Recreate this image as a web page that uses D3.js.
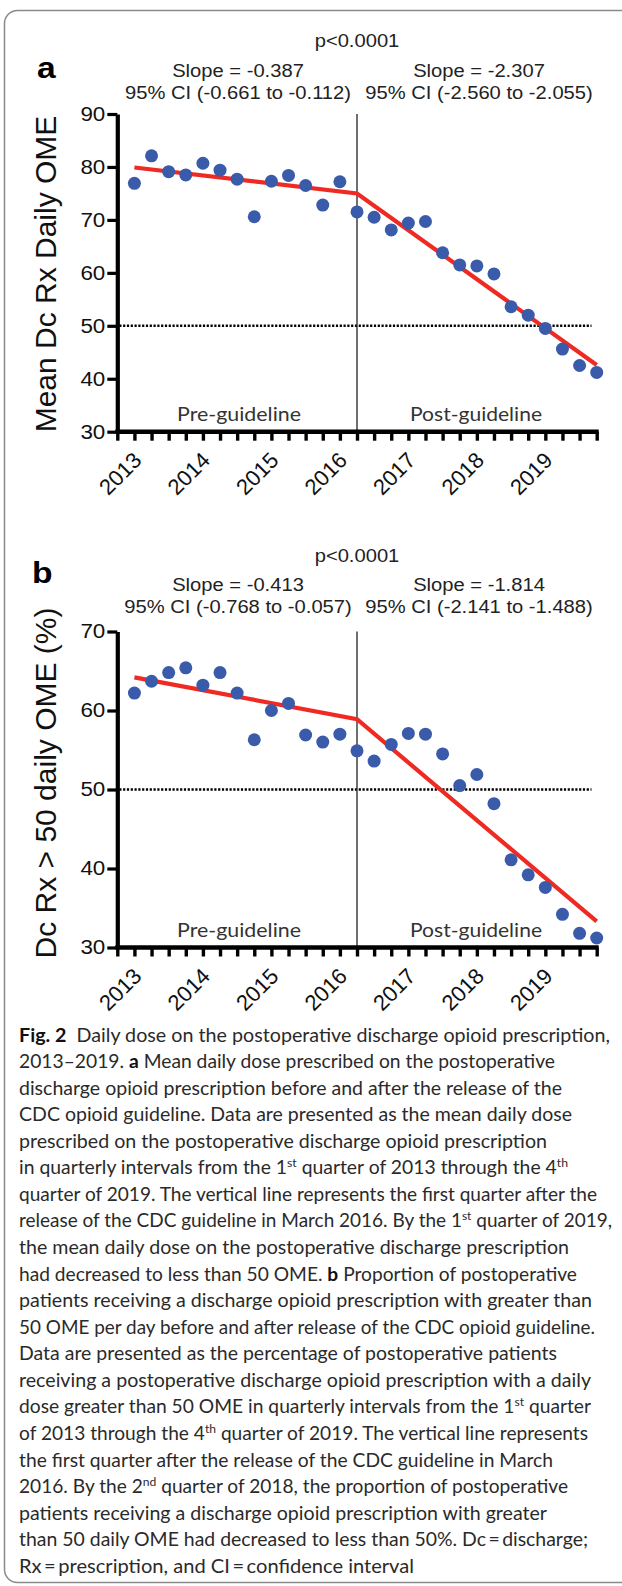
<!DOCTYPE html>
<html><head><meta charset="utf-8">
<script src="https://cdn.jsdelivr.net/npm/d3@7"></script>
<style>body{margin:0;background:#fff}svg{display:block}</style>
</head><body>
<svg id="c" width="622" height="1586"></svg>
<script>
// ---------- data ----------
const quarters = ["2013Q1","2013Q2","2013Q3","2013Q4","2014Q1","2014Q2","2014Q3","2014Q4",
  "2015Q1","2015Q2","2015Q3","2015Q4","2016Q1","2016Q2","2016Q3","2016Q4",
  "2017Q1","2017Q2","2017Q3","2017Q4","2018Q1","2018Q2","2018Q3","2018Q4",
  "2019Q1","2019Q2","2019Q3","2019Q4"];
const years = ["2013","2014","2015","2016","2017","2018","2019"];
const meanDailyOME = [76.9,82.1,79.1,78.5,80.7,79.4,77.7,70.6,77.3,78.4,76.5,72.8,77.2,71.5,
  70.5,68.1,69.4,69.7,63.8,61.5,61.3,59.8,53.6,52.0,49.5,45.6,42.5,41.2];
const pctOver50 = [62.2,63.7,64.8,65.4,63.2,64.8,62.2,56.3,60.0,60.9,56.9,56.0,57.0,54.9,
  53.6,55.7,57.1,57.0,54.5,50.5,51.9,48.2,41.1,39.2,37.6,34.2,31.8,31.2];
const fitQuarters = ["2013Q1","2016Q2","2019Q4"];
const fitA = [79.9,75.0,42.6];
const fitB = [64.2,58.9,33.3];
const guidelineQuarter = "2016Q2";
const ticksA = [30,40,50,60,70,80,90];
const ticksB = [30,40,50,60,70];
const threshold = 50;

// ---------- drawing ----------
const svg = d3.select("#c");
svg.append("rect").attr("width",622).attr("height",1586).attr("fill","#fff");
svg.append("rect").attr("x",4.5).attr("y",10.5).attr("width",660).attr("height",1572)
  .attr("rx",13).attr("fill","none").attr("stroke","#8a8a8a").attr("stroke-width",1.5);

const ARIAL = "'Liberation Sans', Arial, Helvetica, sans-serif";
const HUMAN = "Lato, 'Open Sans', sans-serif";
const BLUE = "#3a5ba9", RED = "#ee2a22";

const x = d3.scaleLinear().domain([-1, quarters.length-1]).range([117.3, 596.7]);
const qx = q => x(quarters.indexOf(q));

function panel(cfg){
  const g = svg.append("g");
  const y = d3.scaleLinear().domain([30, cfg.max]).range([cfg.bottom, cfg.top]);

  // header
  g.append("text").attr("class","st").attr("x",qx(guidelineQuarter)).attr("y",cfg.pY)
    .attr("text-anchor","middle").attr("font-family",ARIAL).attr("font-size",18).attr("fill","#222").text("p<0.0001");
  g.append("text").attr("class","st").attr("x",cfg.letterX).attr("y",cfg.letterY)
    .attr("font-family",ARIAL).attr("font-weight","bold").attr("font-size",30).attr("fill","#000").text(cfg.letter);
  cfg.stats.forEach((s,i)=>{
    const cx = i===0 ? 238 : 479;
    g.append("text").attr("class","st").attr("x",cx).attr("y",cfg.sY).attr("text-anchor","middle")
      .attr("font-family",ARIAL).attr("font-size",18).attr("fill","#222").text(s[0]);
    g.append("text").attr("class","st").attr("x",cx).attr("y",cfg.sY+22).attr("text-anchor","middle")
      .attr("font-family",ARIAL).attr("font-size",18).attr("fill","#222").text(s[1]);
  });

  // threshold dotted line
  g.append("line").attr("x1",x(-1)+2).attr("x2",591.5).attr("y1",y(threshold)).attr("y2",y(threshold))
    .attr("stroke","#000").attr("stroke-width",2.6).attr("stroke-dasharray","2.2,1.6");
  // vertical guideline line
  g.append("line").attr("x1",qx(guidelineQuarter)).attr("x2",qx(guidelineQuarter))
    .attr("y1",cfg.top).attr("y2",cfg.bottom).attr("stroke","#333").attr("stroke-width",1.4);

  // axes
  const ya = g.append("g").attr("transform",`translate(${x(-1)},0)`)
    .call(d3.axisLeft(y).tickValues(cfg.ticks).tickSize(10).tickSizeOuter(0).tickPadding(2));
  ya.select(".domain").attr("stroke","#000").attr("stroke-width",4.2);
  ya.selectAll(".tick line").attr("stroke","#000").attr("stroke-width",3.2);
  ya.selectAll(".tick text").attr("class","st").attr("font-family",ARIAL).attr("font-size",20).attr("fill","#111");

  const xa = g.append("g").attr("transform",`translate(0,${cfg.bottom})`)
    .call(d3.axisBottom(x).tickValues(d3.range(-1, quarters.length)).tickSize(9).tickSizeOuter(0).tickFormat(""));
  xa.select(".domain").attr("stroke","#000").attr("stroke-width",4.5).attr("d",`M${x(-1)-2},0H${x(quarters.length-1)+2}`);
  xa.selectAll(".tick line").attr("stroke","#000").attr("stroke-width",3.4);

  years.forEach((yr,k)=>{
    const px = x(k*4+0.5), py = cfg.bottom+30;
    g.append("text").attr("transform",`translate(${px},${py}) rotate(-45)`).attr("text-anchor","end")
      .attr("font-family",ARIAL).attr("font-size",22).attr("fill","#111").text(yr);
  });

  // y title
  g.append("text").attr("transform",`translate(56,${cfg.titleY}) rotate(-90)`).attr("text-anchor","middle")
    .attr("font-family",ARIAL).attr("font-size",30).attr("fill","#111").text(cfg.title);

  // period labels
  g.append("text").attr("x",239).attr("y",cfg.bottom-11).attr("text-anchor","middle")
    .attr("font-family",HUMAN).attr("font-size",20).attr("fill","#333")
    .attr("textLength",124).attr("lengthAdjust","spacingAndGlyphs").text("Pre-guideline");
  g.append("text").attr("x",476).attr("y",cfg.bottom-11).attr("text-anchor","middle")
    .attr("font-family",HUMAN).attr("font-size",20).attr("fill","#333")
    .attr("textLength",132).attr("lengthAdjust","spacingAndGlyphs").text("Post-guideline");

  // fitted line
  const line = d3.line().x(d=>qx(d[0])).y(d=>y(d[1]));
  g.append("path").datum(fitQuarters.map((q,i)=>[q,cfg.fit[i]])).attr("d",line)
    .attr("fill","none").attr("stroke",RED).attr("stroke-width",4.2).attr("stroke-linejoin","miter");

  // points
  g.selectAll("circle.pt").data(cfg.values).join("circle").attr("class","pt")
    .attr("cx",(d,i)=>qx(quarters[i])).attr("cy",d=>y(d)).attr("r",6.5).attr("fill",BLUE);
}

panel({top:114, bottom:431.7, max:90, ticks:ticksA, values:meanDailyOME, fit:fitA,
  letter:"a", letterX:37, letterY:78, pY:47, sY:77, titleY:274,
  title:"Mean Dc Rx Daily OME",
  stats:[["Slope = -0.387","95% CI (-0.661 to -0.112)"],["Slope = -2.307","95% CI (-2.560 to -2.055)"]]});

panel({top:631.5, bottom:947.5, max:70, ticks:ticksB, values:pctOver50, fit:fitB,
  letter:"b", letterX:32, letterY:583, pY:562, sY:591, titleY:783,
  title:"Dc Rx > 50 daily OME (%)",
  stats:[["Slope = -0.413","95% CI (-0.768 to -0.057)"],["Slope = -1.814","95% CI (-2.141 to -1.488)"]]});

// horizontal stretch of Arial texts (the figure is slightly wider than tall)
svg.selectAll(".st").each(function(){
  const w = this.getComputedTextLength();
  d3.select(this).attr("textLength", w*1.12).attr("lengthAdjust","spacingAndGlyphs");
});

// ---------- caption ----------
const captionLines = [
  [["Fig. 2","b"],["  Daily dose on the postoperative discharge opioid prescription,"]],
  [["2013–2019. "],["a","b"],[" Mean daily dose prescribed on the postoperative"]],
  [["discharge opioid prescription before and after the release of the"]],
  [["CDC opioid guideline. Data are presented as the mean daily dose"]],
  [["prescribed on the postoperative discharge opioid prescription"]],
  [["in quarterly intervals from the 1"],["st","s"],[" quarter of 2013 through the 4"],["th","s"]],
  [["quarter of 2019. The vertical line represents the first quarter after the"]],
  [["release of the CDC guideline in March 2016. By the 1"],["st","s"],[" quarter of 2019,"]],
  [["the mean daily dose on the postoperative discharge prescription"]],
  [["had decreased to less than 50 OME. "],["b","b"],[" Proportion of postoperative"]],
  [["patients receiving a discharge opioid prescription with greater than"]],
  [["50 OME per day before and after release of the CDC opioid guideline."]],
  [["Data are presented as the percentage of postoperative patients"]],
  [["receiving a postoperative discharge opioid prescription with a daily"]],
  [["dose greater than 50 OME in quarterly intervals from the 1"],["st","s"],[" quarter"]],
  [["of 2013 through the 4"],["th","s"],[" quarter of 2019. The vertical line represents"]],
  [["the first quarter after the release of the CDC guideline in March"]],
  [["2016. By the 2"],["nd","s"],[" quarter of 2018, the proportion of postoperative"]],
  [["patients receiving a discharge opioid prescription with greater"]],
  [["than 50 daily OME had decreased to less than 50%. Dc\u2009=\u2009discharge;"]],
  [["Rx\u2009=\u2009prescription, and CI\u2009=\u2009confidence interval"]]
];
const captionWidths = [591,536,543,553,528,549,578,593,550,558,573,576,538,572,572,569,534,549,528,569,395];

const cap = svg.append("g");
captionLines.forEach((segs,i)=>{
  const t = cap.append("text").attr("x",19).attr("y",1041.5 + i*26.57)
    .attr("font-family",HUMAN).attr("font-size",19).attr("fill","#2a2a2a")
    .attr("textLength",captionWidths[i]).attr("lengthAdjust","spacingAndGlyphs")
    .attr("xml:space","preserve").style("white-space","pre");
  segs.forEach(s=>{
    const ts = t.append("tspan").text(s[0]);
    if(s[1]==="b") ts.attr("font-weight","bold").attr("fill","#111");
    if(s[1]==="s") ts.attr("font-size",12).attr("baseline-shift","super");
  });
});
</script>
</body></html>
